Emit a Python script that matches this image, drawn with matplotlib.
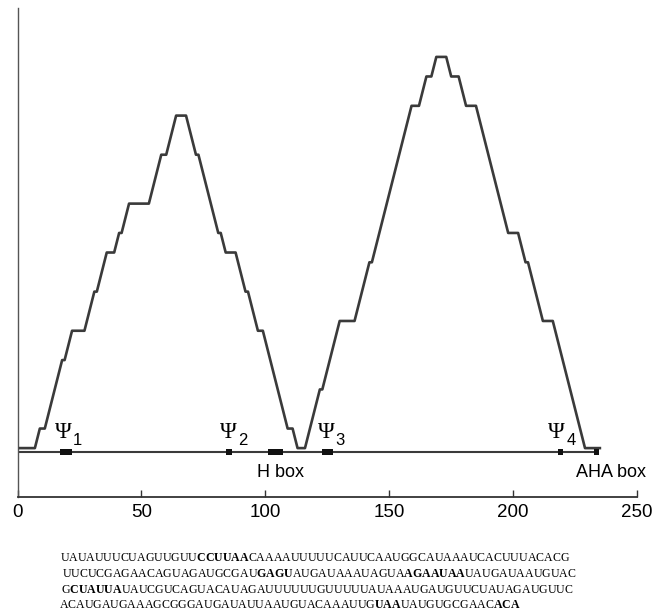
import matplotlib
matplotlib.use('Agg')
import matplotlib.pyplot as plt

plt.rcParams['font.family'] = 'Liberation Sans'
plt.rcParams['mathtext.fontset'] = 'custom'
plt.rcParams['mathtext.rm'] = 'Liberation Serif'
plt.rcParams['mathtext.bf'] = 'Liberation Serif:bold'

# mountain plot: nucleotide position vs number of enclosing base pairs
pos = [1, 7, 9, 11, 18, 19, 22, 27, 31, 32, 36, 39, 41, 42, 45, 53, 58, 60, 64, 68,
       72, 73, 81, 82, 84, 88, 92, 93, 97, 99, 109, 111, 113, 116,
       122, 123, 130, 136, 142, 143, 159, 162, 165, 167, 169, 173, 175, 178, 181, 185,
       198, 202, 205, 206, 212, 216, 229, 235]
height = [0, 0, 2, 2, 9, 9, 12, 12, 16, 16, 20, 20, 22, 22, 25, 25, 30, 30, 34, 34,
          30, 30, 22, 22, 20, 20, 16, 16, 12, 12, 2, 2, 0, 0,
          6, 6, 13, 13, 19, 19, 35, 35, 38, 38, 40, 40, 38, 38, 35, 35,
          22, 22, 19, 19, 13, 13, 0, 0]

seq_start, seq_end = 0, 234
box_start = [17, 84, 101, 123, 218, 232.5]
box_end = [22, 86.5, 107, 127.5, 220, 234.5]

psi_sub = ['1', '2', '3', '4']
psi_pos = [18.5, 85, 124.5, 217.5]

box_names = ['H box', 'AHA box']
box_name_pos = [106, 239.5]

seq_lines = [
    r'UAUAUUUCUAGUUGUU$\mathbf{CCUUAA}$CAAAAUUUUUCAUUCAAUGGCAUAAAUCACUUUACACG',
    r'UUCUCGAGAACAGUAGAUGCGAU$\mathbf{GAGU}$AUGAUAAAUAGUA$\mathbf{AGAAUAA}$UAUGAUAAUGUAC',
    r'G$\mathbf{CUAUUA}$UAUCGUCAGUACAUAGAUUUUUUGUUUUUAUAAAUGAUGUUCUAUAGAUGUUC',
    r'ACAUGAUGAAAGCGGGAUGAUAUUAAUGUACAAAUUG$\mathbf{UAA}$UAUGUGCGAAC$\mathbf{ACA}$',
]

fig = plt.figure(figsize=(6.64, 6.12), dpi=100)
ax = fig.add_axes([0.0264, 0.1879, 0.933, 0.799])

ax.plot(pos, height, color='#3a3a3a', linewidth=1.9, zorder=3)
ax.plot([seq_start, seq_end], [-0.4, -0.4], color='#3a3a3a', linewidth=1.5, zorder=2)
ax.broken_barh([(s, e - s) for s, e in zip(box_start, box_end)], (-0.75, 0.7),
               facecolor='#111111', edgecolor='none', zorder=4)

for p, s in zip(psi_pos, psi_sub):
    ax.text(p, 1.0, '\u03a8', family='Liberation Serif', fontsize=16.5,
            ha='center', va='baseline')
    ax.annotate(s, (p, 1.0), xytext=(7, -5), textcoords='offset points',
                fontsize=12, ha='left', va='baseline')

for name, p in zip(box_names, box_name_pos):
    ax.text(p, -2.5, name, fontsize=13, ha='center', va='center')

ax.set_xlim(0, 250)
ax.set_ylim(-5, 45)
ax.set_xticks([0, 50, 100, 150, 200, 250])
ax.set_yticks([])
ax.tick_params(axis='x', direction='in', length=5, width=1, labelsize=13.5, pad=5,
               color='#333333')
ax.spines['right'].set_visible(False)
ax.spines['top'].set_visible(False)
ax.spines['left'].set_color('#555555')
ax.spines['left'].set_linewidth(1)
ax.spines['bottom'].set_color('#333333')
ax.spines['bottom'].set_linewidth(1.3)

line_x = [0.0904, 0.0934, 0.0919, 0.0889]
line_y = [0.0838, 0.0577, 0.0315, 0.006]
for x, y, s in zip(line_x, line_y, seq_lines):
    fig.text(x, y, s, family='Liberation Serif', fontsize=8.55, ha='left', va='baseline')

fig.savefig('out.png', dpi=100)
